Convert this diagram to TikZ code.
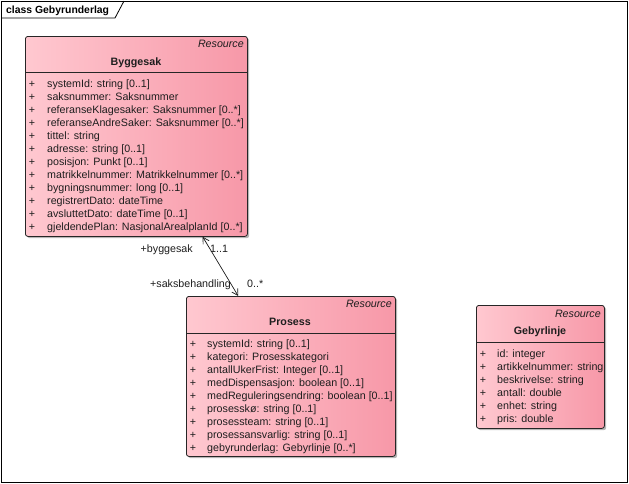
\documentclass[tikz,border=0pt]{standalone}
\usepackage{fontspec}
\setmainfont{Liberation Sans}
\usetikzlibrary{arrows.meta,calc,shadows}
\definecolor{pinkL}{RGB}{255,200,208}
\definecolor{pinkR}{RGB}{247,152,168}
\definecolor{txt}{RGB}{30,30,30}
\begin{document}
\begin{tikzpicture}[x=1pt,y=-1pt,
  font=\fontsize{10.7}{12}\selectfont,
  classbox/.style={draw=black!85, line width=0.8pt, rounded corners=2.5pt,
    left color=pinkL, right color=pinkR, anchor=north west, inner sep=0pt,
    drop shadow={shadow xshift=1.8pt, shadow yshift=-1.8pt, fill=black, opacity=0.28}},
  stereo/.style={anchor=mid east, inner sep=0pt, font=\fontsize{10.7}{12}\selectfont\itshape, text=txt},
  ctitle/.style={anchor=mid, inner sep=0pt, font=\fontsize{10.7}{12}\selectfont\bfseries, text=txt},
  attr/.style={anchor=mid west, inner sep=0pt, text=txt},
  plus/.style={anchor=mid, inner sep=0pt, text=txt},
  sep/.style={draw=black!85, line width=0.6pt},
  assoc/.style={draw=black!90, line width=0.7pt, {Straight Barb[length=6pt,width=7pt]}-{Straight Barb[length=6pt,width=7pt]}},
  rolelab/.style={inner sep=0pt, text=txt}
]
\useasboundingbox (0,0) rectangle (629,483);

% frame
\node[draw=black, line width=0.8pt, anchor=north west, minimum width=626pt, minimum height=481pt, inner sep=0pt] (frame) at (1,1) {};
\draw[line width=0.8pt] (frame.north west |- 0,18) -- (115,18) -- (124,1);
\node[anchor=mid west, inner sep=0pt, font=\fontsize{10.4}{12}\selectfont\bfseries] (ftitle) at (6,11) {class Gebyrunderlag};

% Byggesak
\node[classbox, minimum width=222pt, minimum height=200pt] (bygg) at (25,36) {};
\node[stereo] (byggres) at (244,45) {Resource};
\node[ctitle] (byggname) at (136,62.5) {Byggesak};
\draw[sep] (bygg.west |- 0,72) -- (bygg.east |- 0,72);
\foreach \t [count=\i] in {systemId: string [0..1],
  saksnummer: Saksnummer,
  referanseKlagesaker: Saksnummer [0..*],
  referanseAndreSaker: Saksnummer [0..*],
  tittel: string,
  adresse: string [0..1],
  posisjon: Punkt [0..1],
  matrikkelnummer: Matrikkelnummer [0..*],
  bygningsnummer: long [0..1],
  registrertDato: dateTime,
  avsluttetDato: dateTime [0..1],
  gjeldendePlan: NasjonalArealplanId [0..*]} {
  \node[plus] (bp\i) at (32,{84.5+13*(\i-1)}) {+};
  \node[attr] (ba\i) at (47,{84.5+13*(\i-1)}) {\t};
}

% Prosess
\node[classbox, minimum width=209pt, minimum height=160pt] (pros) at (186,296) {};
\node[stereo] (prosres) at (392,305) {Resource};
\node[ctitle] (prosname) at (290,322.5) {Prosess};
\draw[sep] (pros.west |- 0,333) -- (pros.east |- 0,333);
\foreach \t [count=\i] in {systemId: string [0..1],
  kategori: Prosesskategori,
  antallUkerFrist: Integer [0..1],
  medDispensasjon: boolean [0..1],
  medReguleringsendring: boolean [0..1],
  prosesskø: string [0..1],
  prosessteam: string [0..1],
  prosessansvarlig: string [0..1],
  gebyrunderlag: Gebyrlinje [0..*]} {
  \node[plus] (pp\i) at (193,{344.5+13*(\i-1)}) {+};
  \node[attr] (pa\i) at (207,{344.5+13*(\i-1)}) {\t};
}

% Gebyrlinje
\node[classbox, minimum width=128pt, minimum height=123pt] (geb) at (476,305) {};
\node[stereo] (gebres) at (601,315) {Resource};
\node[ctitle] (gebname) at (540,331.5) {Gebyrlinje};
\draw[sep] (geb.west |- 0,342) -- (geb.east |- 0,342);
\foreach \t [count=\i] in {id: integer,
  artikkelnummer: string,
  beskrivelse: string,
  antall: double,
  enhet: string,
  pris: double} {
  \node[plus] (gp\i) at (483,{354.5+13*(\i-1)}) {+};
  \node[attr] (ga\i) at (497,{354.5+13*(\i-1)}) {\t};
}

% association
\draw[assoc] ($(bygg.south west)!0.7975!(bygg.south east)$) -- ($(pros.north west)!0.249!(pros.north east)$);
\node[rolelab, anchor=mid east] (r1) at (193,250) {+byggesak};
\node[rolelab, anchor=mid west] (m1) at (210,250) {1..1};
\node[rolelab, anchor=mid east] (r2) at (231,285) {+saksbehandling};
\node[rolelab, anchor=mid west] (m2) at (247,285) {0..*};
\end{tikzpicture}
\end{document}
